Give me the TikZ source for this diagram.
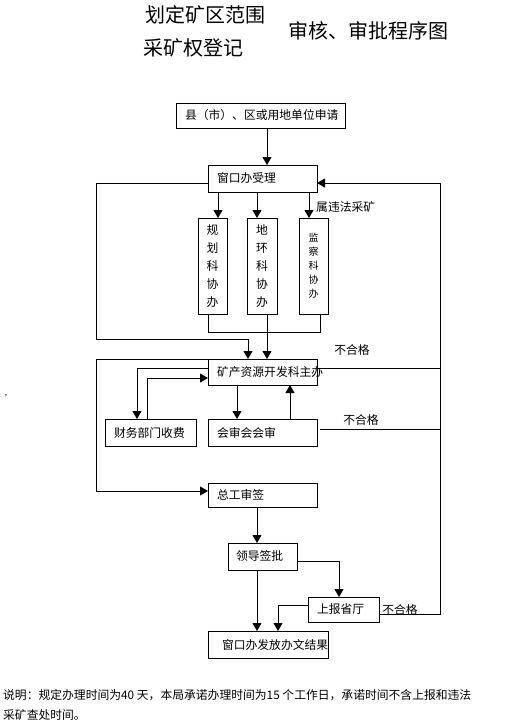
\documentclass[tikz,border=0pt]{standalone}
\usepackage{fontspec}
\setmainfont{Noto Sans CJK SC}
\usetikzlibrary{arrows.meta,calc}
\newcommand\boxfont{\fontsize{11.8}{14}\selectfont}
\newcommand\titlefont{\fontsize{20}{22}\selectfont}
\begin{document}
\begin{tikzpicture}[x=1pt,y=-1pt,
  box/.style={draw,line width=1pt,outer sep=0pt,inner xsep=9pt,inner ysep=0pt,align=left,font=\boxfont,anchor=north west},
  vbox/.style={draw,line width=1pt,outer sep=0pt,inner sep=0pt,align=center,anchor=north west,minimum width=29pt,minimum height=96pt,font=\fontsize{11.8}{18}\selectfont},
  ln/.style={line width=1pt},
  arr/.style={line width=1pt,-{Triangle[width=9pt,length=8pt]}},
  lbl/.style={inner sep=0pt,font=\boxfont}]
\path[fill=white] (0,0) rectangle (512,728);
% titles
\node[anchor=west,inner sep=0pt,font=\titlefont] (T1) at (145,15) {划定矿区范围};
\node[anchor=west,inner sep=0pt,font=\titlefont] (T2) at (143,48) {采矿权登记};
\node[anchor=west,inner sep=0pt,font=\titlefont] (T3) at (288,31) {审核、审批程序图};
% boxes
\node[box,minimum width=169pt,minimum height=25pt,text width=151pt] (A) at (176,103) {县（市）、区或用地单位申请};
\node[box,minimum width=109pt,minimum height=27pt,text width=91pt] (B) at (208,165) {窗口办受理};
\node[vbox] (V1) at (198,218) {规\\划\\科\\协\\办};
\node[vbox,minimum width=30pt] (V2) at (247,218) {地\\环\\科\\协\\办};
\node[vbox,font=\fontsize{10}{14}\selectfont] (V3) at (299,218) {监\\察\\科\\协\\办};
\node[box,minimum width=109pt,minimum height=26pt,text width=91pt] (C) at (208,359) {矿产资源开发科主办};
\node[box,minimum width=109pt,minimum height=27pt,text width=91pt] (D) at (208,419) {会审会会审};
\node[box,minimum width=91pt,minimum height=27pt,text width=73pt] (E) at (105,419) {财务部门收费};
\node[box,minimum width=109pt,minimum height=24pt,text width=91pt] (F) at (208,483) {总工审签};
\node[box,inner xsep=8pt,minimum width=69pt,minimum height=27pt,text width=53pt] (G) at (228,543) {领导签批};
\node[box,minimum width=71pt,minimum height=25pt,text width=53pt] (H) at (308,597) {上报省厅};
\node[box,inner xsep=14pt,minimum width=120pt,minimum height=27pt,text width=92pt] (I) at (208,631) {窗口办发放办文结果};
% helper coordinates
\coordinate (xa) at (267,0);
\coordinate (x1) at (218,0);
\coordinate (x2) at (257,0);
\coordinate (x3) at (309,0);
\coordinate (xb1) at (208,0);
\coordinate (xb2) at (267,0);
\coordinate (xb3) at (320,0);
\coordinate (yb) at (0,332);
\coordinate (xL) at (96,0);
\coordinate (yL1) at (0,339);
\coordinate (xc1) at (248,0);
\coordinate (y183) at (0,183);
\coordinate (yF) at (0,491);
\coordinate (y368) at (0,368);
\coordinate (y378) at (0,378);
\coordinate (y429) at (0,429);
\coordinate (xe1) at (137,0);
\coordinate (xe2) at (147,0);
\coordinate (xd1) at (237,0);
\coordinate (xd2) at (290,0);
\coordinate (xR) at (440,0);
\coordinate (xg) at (257,0);
\coordinate (y561) at (0,561);
\coordinate (xh) at (339,0);
\coordinate (y605) at (0,605);
\coordinate (xi) at (278,0);
\coordinate (y614) at (0,614);
% connectors
\draw[arr] (A.south -| xa) -- (B.north -| xa);
\draw[arr] (B.south -| x1) -- (V1.north -| x1);
\draw[arr] (B.south -| x2) -- (V2.north -| x2);
\draw[arr] (B.south -| x3) -- (V3.north -| x3);
\draw[ln] (V1.south -| xb1) |- (yb -| xb3) -- (V3.south -| xb3);
\draw[arr] (V2.south -| xb2) -- (C.north -| xb2);
\draw[arr] (B.west |- y183) -| (xL |- yL1) -| (C.north -| xc1);
\draw[arr] (C.north west) -| (xL |- yF) -- (F.west |- yF);
\draw[arr] (C.west |- y368) -| (E.north -| xe1);
\draw[arr] (E.north -| xe2) |- (C.west |- y378);
\draw[arr] (C.south -| xd1) -- (D.north -| xd1);
\draw[arr] (D.north -| xd2) -- (C.south -| xd2);
\draw[ln] (C.east |- y368) -- (xR |- y368);
\draw[ln,shorten <=3pt] (D.east |- y429) -- (xR |- y429);
\draw[arr] (F.south -| xg) -- (G.north -| xg);
\draw[arr] (G.south -| xg) -- (I.north -| xg);
\draw[arr] (G.east |- y561) -| (H.north -| xh);
\draw[arr] (H.west |- y605) -| (I.north -| xi);
\draw[arr] (H.east |- y614) -| (xR |- y183) -- (B.east |- y183);
% labels
\node[lbl,anchor=west] (L1) at (316,207) {属违法采矿};
\node[lbl] (N1) at (352,350) {不合格};
\node[lbl] (N2) at (361,420) {不合格};
\node[lbl] (N3) at (400,610) {不合格};
\node[inner sep=0pt,font=\fontsize{8}{8}\selectfont] (mark) at (6,396) {,};
% footer
\node[anchor=base west,inner sep=0pt,font=\boxfont] (note1) at (3,699.5) {说明：规定办理时间为40 天，本局承诺办理时间为15 个工作日，承诺时间不含上报和违法};
\node[anchor=base west,inner sep=0pt,font=\boxfont] (note2) at (3,719.5) {采矿查处时间。};
\end{tikzpicture}
\end{document}
